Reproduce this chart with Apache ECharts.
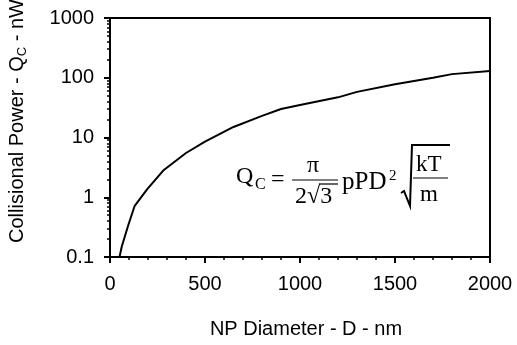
<!DOCTYPE html>
<html>
<head>
<meta charset="utf-8">
<script src="https://cdn.jsdelivr.net/npm/echarts@6/dist/echarts.min.js"></script>
<style>
  html, body { margin: 0; padding: 0; background: #fff; }
  #chart { width: 517px; height: 345px; }
</style>
</head>
<body>
<div id="chart"></div>
<script>
// NP diameter (nm) vs collisional power (nW)
const diameters = [50, 62, 96, 130, 195, 280, 400, 500, 650, 800, 900, 1000, 1200, 1300, 1500, 1700, 1800, 2000];
const power = [0.1, 0.15, 0.34, 0.72, 1.35, 2.8, 5.5, 8.5, 15, 23, 30, 35, 47, 58, 78, 100, 115, 130];
const xTicks = [0, 500, 1000, 1500, 2000];
const yMinorTicks = [
    0.2, 0.3, 0.4, 0.5, 0.6, 0.7, 0.8, 0.9,
    2, 3, 4, 5, 6, 7, 8, 9,
    20, 30, 40, 50, 60, 70, 80, 90,
    200, 300, 400, 500, 600, 700, 800, 900
];

const font = 'Liberation Sans, Arial, sans-serif';
const serif = 'Liberation Serif, Times New Roman, serif';
const plain = v => String(+Number(v).toPrecision(4));

const chart = echarts.init(document.getElementById('chart'));

function txt(x, y, s, size) {
    return {
        type: 'text', x: x, y: y, silent: true,
        style: { text: s, font: size + 'px ' + serif, fill: '#000', align: 'left', verticalAlign: 'middle' }
    };
}
function ln(x1, y1, x2, y2, w) {
    return {
        type: 'line', silent: true,
        shape: { x1: x1, y1: y1, x2: x2, y2: y2 },
        style: { stroke: '#000', lineWidth: w || 1 }
    };
}

chart.setOption({
    animation: false,
    textStyle: { fontFamily: font, color: '#000' },
    grid: { left: 110, right: 27, top: 18, bottom: 88 },
    xAxis: [{
        type: 'value',
        min: xTicks[0], max: xTicks[xTicks.length - 1], interval: 500,
        name: 'NP Diameter - D - nm',
        nameLocation: 'middle', nameGap: 62,
        nameTextStyle: { fontSize: 20, fontFamily: font, color: '#000', padding: [0, 0, 0, 12] },
        axisLine: { show: true, lineStyle: { color: '#000', width: 2 } },
        axisTick: { show: true, length: 6, lineStyle: { color: '#000', width: 2 } },
        minorTick: { show: true, splitNumber: 5, length: 3, lineStyle: { color: '#000', width: 1.5 } },
        axisLabel: { fontSize: 20, color: '#000', margin: 17, fontFamily: font, formatter: plain },
        splitLine: { show: false }
    }, {
        type: 'value', position: 'top',
        min: xTicks[0], max: xTicks[xTicks.length - 1],
        axisLine: { show: true, lineStyle: { color: '#000', width: 2 } },
        axisTick: { show: false }, axisLabel: { show: false }, splitLine: { show: false }
    }],
    yAxis: [{
        type: 'log', logBase: 10,
        min: 0.1, max: 1000,
        axisLine: { show: true, lineStyle: { color: '#000', width: 2 } },
        axisTick: { show: true, length: 6, lineStyle: { color: '#000', width: 2 } },
        axisLabel: { fontSize: 20, color: '#000', margin: 16, fontFamily: font, formatter: plain },
        splitLine: { show: false }
    }, {
        type: 'log', logBase: 10,
        min: 0.1, max: 1000, position: 'left', offset: 0,
        axisLine: { show: false },
        axisTick: { show: true, length: 3, customValues: yMinorTicks, lineStyle: { color: '#000', width: 1.5 } },
        axisLabel: { show: false },
        splitLine: { show: false }
    }, {
        type: 'log', logBase: 10,
        min: 0.1, max: 1000, position: 'right',
        axisLine: { show: true, lineStyle: { color: '#000', width: 2 } },
        axisTick: { show: false }, axisLabel: { show: false }, splitLine: { show: false }
    }],
    series: [{
        type: 'line',
        xAxisIndex: 0, yAxisIndex: 0,
        data: diameters.map((d, i) => [d, power[i]]),
        showSymbol: false,
        symbol: 'none',
        lineStyle: { color: '#000', width: 2 }
    }],
    graphic: [
        {
            type: 'text', x: 17, y: 121, rotation: Math.PI / 2, silent: true,
            style: {
                text: 'Collisional Power - Q{sub|C} - nW',
                fontSize: 20, fontFamily: font, fill: '#000',
                align: 'center', verticalAlign: 'middle',
                rich: { sub: { fontSize: 13, fontFamily: font, fill: '#000', padding: [10, 0, 0, 0] } }
            }
        },
        txt(236, 177, 'Q', 24),
        txt(255, 185, 'C', 16),
        txt(271, 180, '=', 24),
        txt(307, 166, 'π', 24),
        ln(292, 180, 338, 180, 1.2),
        txt(295, 197, '2√3', 24),
        ln(319, 184, 338, 184, 1.2),
        txt(342, 182, 'pPD', 25),
        txt(389, 176, '2', 15),
        {
            type: 'polyline', silent: true,
            shape: { points: [[401, 193], [404, 191], [410, 206], [412, 145], [450, 145]] },
            style: { stroke: '#000', lineWidth: 2, fill: null }
        },
        txt(416, 165, 'kT', 23),
        ln(413, 178, 448, 178, 1.2),
        txt(420, 195, 'm', 23)
    ]
});
</script>
</body>
</html>
